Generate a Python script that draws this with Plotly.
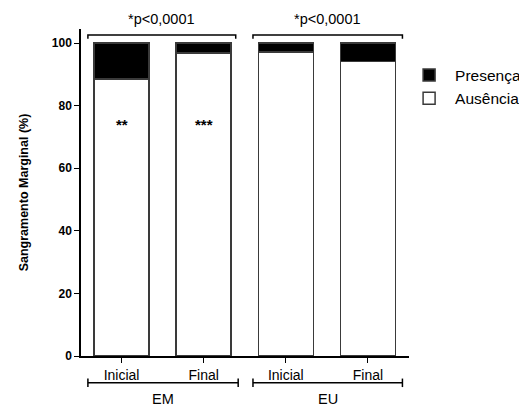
import plotly.graph_objects as go

periods = ["Inicial", "Final", "Inicial", "Final"]
groups = ["EM", "EM", "EU", "EU"]
presenca = [11.5, 3.2, 2.8, 5.9]
ausencia = [88.5, 96.8, 97.2, 94.1]
bar_marks = ["**", "***", "", ""]
sig_text = ["*p<0,0001", "*p<0,0001"]

x = list(range(len(periods)))
FONT = "Liberation Sans, Arial, sans-serif"
edge = dict(color="#3a3a3a", width=1.5)

fig = go.Figure()
fig.add_trace(go.Bar(x=x, y=ausencia, name="Ausência", marker=dict(color="white", line=edge), width=0.67))
fig.add_trace(go.Bar(x=x, y=presenca, name="Presença", marker=dict(color="black", line=edge), width=0.67))

# asterisks inside bars
for i, m in enumerate(bar_marks):
    if m:
        fig.add_annotation(x=i, y=74, text="<b>" + m + "</b>", showarrow=False,
                           font=dict(size=15, color="black", family=FONT))

# top brackets + p text
for gi, (a, b) in enumerate([(-0.41, 1.39), (1.60, 3.42)]):
    fig.add_shape(type="path", xref="x", yref="paper",
                  path=f"M {a} 0.970 L {a} 0.982 L {b} 0.982 L {b} 0.970",
                  line=dict(color="black", width=1.5))
    fig.add_annotation(x=(a + b) / 2, xref="x", y=1.031, yref="paper", text=sig_text[gi],
                       showarrow=False, yanchor="middle", font=dict(size=14.5, color="black", family=FONT))

# bottom group brackets
group_names = []
for g in groups:
    if g not in group_names:
        group_names.append(g)
for gi, (a, b) in enumerate([(-0.41, 1.42), (1.60, 3.42)]):
    fig.add_shape(type="line", xref="x", yref="paper", x0=a, x1=b, y0=-0.082, y1=-0.082,
                  line=dict(color="black", width=1.5))
    for xx in (a, b):
        fig.add_shape(type="line", xref="x", yref="paper", x0=xx, x1=xx, y0=-0.069, y1=-0.095,
                      line=dict(color="black", width=1.5))
    fig.add_annotation(x=(a + b) / 2, xref="x", y=-0.133, yref="paper", text=group_names[gi],
                       showarrow=False, yanchor="middle", font=dict(size=14.5, color="black", family=FONT))

# page body has an 8px margin, so the figure is 8px smaller and margins shifted
fig.update_layout(
    barmode="stack",
    width=519, height=398,
    margin=dict(l=73, r=118, t=21, b=50, autoexpand=False),
    paper_bgcolor="white", plot_bgcolor="white",
    font=dict(family=FONT, color="black"),
    legend=dict(x=0.982, y=0.91, xanchor="left", yanchor="top", traceorder="reversed",
                font=dict(size=15.5, family=FONT), itemwidth=42, tracegroupgap=0),
    showlegend=True,
)
fig.update_xaxes(range=[-0.494, 3.5], tickmode="array", tickvals=x, ticktext=periods,
                 showline=True, linecolor="black", linewidth=1.5, ticks="outside", ticklen=5,
                 tickcolor="black", tickfont=dict(size=14, family=FONT), showgrid=False, zeroline=False)
fig.update_yaxes(range=[0, 104.5], tickvals=[0, 20, 40, 60, 80, 100],
                 ticktext=["<b>%d</b>" % v for v in [0, 20, 40, 60, 80, 100]],
                 showline=True, linecolor="black", linewidth=1.5, ticks="outside", ticklen=5,
                 tickcolor="black", tickfont=dict(size=12, family=FONT), showgrid=False, zeroline=False,
                 title=dict(text="<b>Sangramento Marginal (%)</b>", font=dict(size=12.5, family=FONT), standoff=20))

fig.write_html("out.html")
